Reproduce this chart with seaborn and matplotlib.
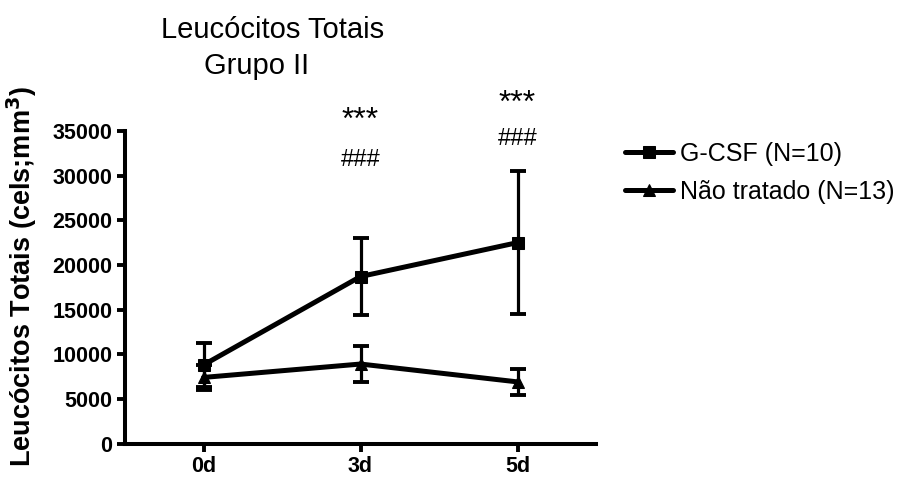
import matplotlib
matplotlib.use("Agg")
import matplotlib.pyplot as plt
import seaborn as sns
import pandas as pd
import numpy as np

days = ["0d", "3d", "5d"]
gcsf_mean = [8800, 18700, 22500]
gcsf_err = [2500, 4300, 8000]
nt_mean = [7400, 8900, 6900]
nt_err = [1400, 2000, 1500]
series_names = ["G-CSF (N=10)", "Não tratado (N=13)"]
stars = ["", "***", "***"]
hashes = ["", "###", "###"]

sns.set_theme(style="ticks")
plt.rcParams['font.family'] = ['Liberation Sans', 'DejaVu Sans']
for k in ["text.color", "axes.labelcolor", "xtick.color", "ytick.color", "axes.edgecolor"]:
    plt.rcParams[k] = "black"

fig = plt.figure(figsize=(8.98, 4.78), dpi=100)
ax = fig.add_axes([125/898, 1-443.5/478, (596-125)/898, (443.5-131)/478])

x = np.arange(len(days))
df = pd.DataFrame({
    "x": np.concatenate([x, x]),
    "y": gcsf_mean + nt_mean,
    "grupo": [series_names[0]]*3 + [series_names[1]]*3,
})

sns.lineplot(data=df, x="x", y="y", hue="grupo", style="grupo",
             palette=["black", "black"], markers=["s", "^"], dashes=False,
             linewidth=3.6, markersize=9, markeredgecolor="black",
             ax=ax, legend=True)

for mean, err in [(gcsf_mean, gcsf_err), (nt_mean, nt_err)]:
    ax.errorbar(x, mean, yerr=err, fmt="none", ecolor="black",
                elinewidth=2.3, capsize=5.5, capthick=2.8, zorder=1)

ax.set_xlim(-0.5, 2.5)
ax.set_ylim(0, 35000)
ax.set_xticks(x)
ax.set_xticklabels(days)
ax.set_yticks(np.arange(0, 35001, 5000))
ax.tick_params(axis="both", width=2.8, length=6, labelsize=15.5, color="black", pad=3)
for lab in ax.get_xticklabels() + ax.get_yticklabels():
    lab.set_fontweight("bold")
for side in ["left", "bottom"]:
    ax.spines[side].set_linewidth(2.9)
    ax.spines[side].set_color("black")
sns.despine(ax=ax)
ax.set_xlabel("")
ax.set_ylabel("Leucócitos Totais (cels;mm$^\\mathbf{3}$)", fontsize=19.5,
              fontweight="bold")
ax.yaxis.set_label_coords(-0.182, 0.533)

# annotations
star_y = [0, 36150, 38000]
hash_y = [0, 31800, 34100]
for i in range(len(days)):
    if stars[i]:
        ax.text(x[i], star_y[i], stars[i], ha="center", va="center",
                fontsize=23, clip_on=False)
        ax.text(x[i], hash_y[i], hashes[i], ha="center", va="center",
                fontsize=17, clip_on=False)

fig.text(273/898, 1-30/478, "Leucócitos Totais", ha="center", va="center", fontsize=21)
fig.text(257/898, 1-66/478, "Grupo II", ha="center", va="center", fontsize=21)

h, l = ax.get_legend_handles_labels()
ax.legend(h, l, loc="upper left", bbox_to_anchor=(615/898, 1-132/478),
          bbox_transform=fig.transFigure, frameon=False, fontsize=18,
          handlelength=1.9, handletextpad=0.3, labelspacing=0.55, borderaxespad=0)

fig.savefig("out.png", dpi=100)
